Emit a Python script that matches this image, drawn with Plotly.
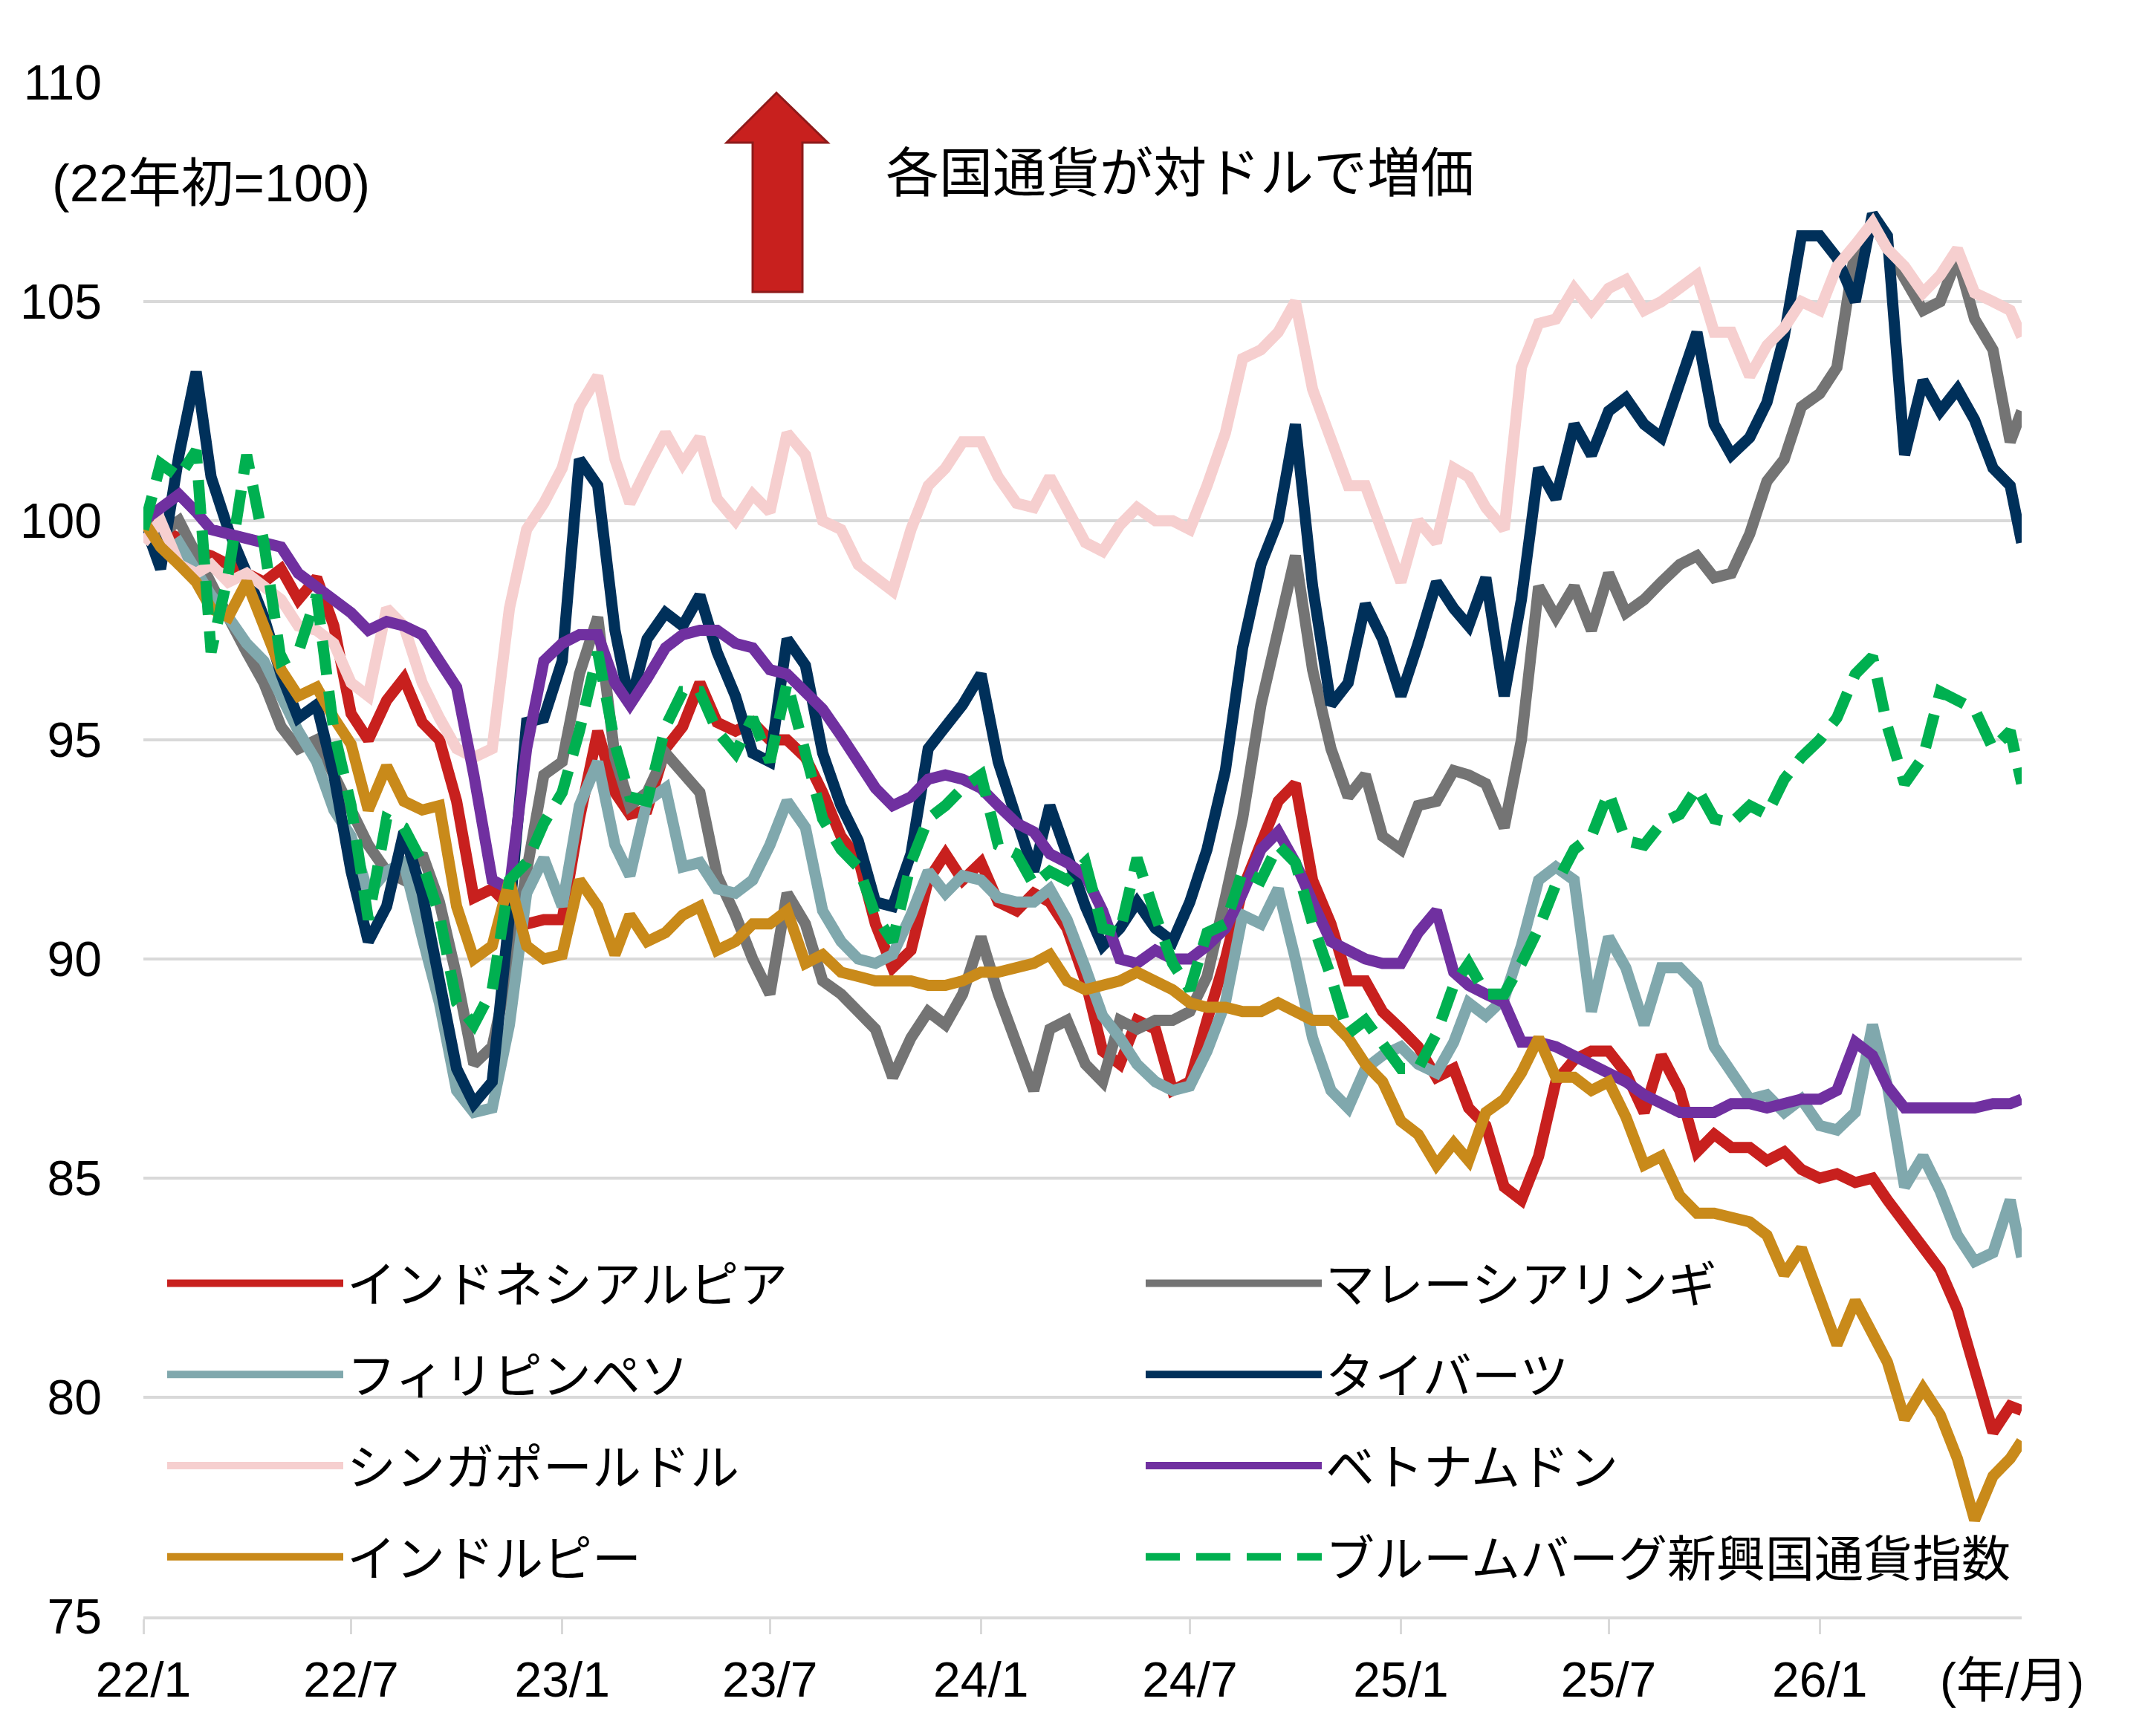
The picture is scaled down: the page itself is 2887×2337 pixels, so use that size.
import plotly.graph_objects as go

# ---- x categories: semi-monthly observation dates (22/1 .. 26/6) ----
dates = []
for i in range(54):
    yr = 2022 + i // 12
    mo = i % 12 + 1
    dates.append(f"{yr}-{mo:02d}-01")
    dates.append(f"{yr}-{mo:02d}-16")
dates.append("2026-06-26")

tick_vals = ["2022-01-01", "2022-07-01", "2023-01-01", "2023-07-01", "2024-01-01",
             "2024-07-01", "2025-01-01", "2025-07-01", "2026-01-01"]
tick_text = ["22/1", "22/7", "23/1", "23/7", "24/1", "24/7", "25/1", "25/7", "26/1"]

# ---- series values (22年初=100) ----
idr = [100, 99.8, 99.6, 99.3, 99.2, 99.0, 98.8, 98.6, 98.9, 98.2,
       98.7, 97.6, 95.6, 95.0, 95.9, 96.4, 95.4, 95.0, 93.6, 91.4,
       91.6, 91.2, 90.8, 90.9, 90.9, 93.2, 95.2, 93.8, 93.3, 93.4,
       94.8, 95.3, 96.3, 95.4, 95.2, 95.4, 95.0, 95.0, 94.6, 93.8,
       92.8, 92.3, 90.8, 89.8, 90.2, 91.8, 92.4, 91.8, 92.2, 91.3,
       91.1, 91.5, 91.3, 90.7, 89.5, 87.9, 87.6, 88.6, 88.4, 87.0,
       87.2, 88.6, 90.0, 91.6, 92.6, 93.6, 94.0, 91.8, 90.8, 89.5,
       89.5, 88.8, 88.4, 88.0, 87.3, 87.5, 86.6, 86.2, 84.8, 84.5,
       85.5, 87.2, 87.7, 87.9, 87.9, 87.4, 86.5, 87.8, 87.0, 85.6,
       86.0, 85.7, 85.7, 85.4, 85.6, 85.2, 85.0, 85.1, 84.9, 85.0,
       84.5, 84.0, 83.5, 82.9, 82.0, 80.6, 79.2, 79.8, 79.7]

myr = [100, 99.7, 100.0, 99.2, 98.5, 97.8, 97.0, 96.3, 95.3, 94.8,
       95.0, 94.2, 93.4, 92.6, 92.0, 91.8, 92.4, 91.3, 89.6, 87.6,
       88.0, 89.8, 92.0, 94.2, 94.5, 96.5, 97.8, 94.6, 93.5, 93.8,
       94.7, 94.2, 93.8, 91.9, 91.0, 90.0, 89.2, 91.5, 90.8, 89.5,
       89.2, 88.8, 88.4, 87.3, 88.2, 88.8, 88.5, 89.2, 90.5, 89.2,
       88.0, 87.0, 88.4, 88.6, 87.6, 87.2, 88.6, 88.4, 88.6, 88.6,
       88.8, 89.6, 91.4, 93.2, 95.8, 97.5, 99.2, 96.6, 94.8, 93.7,
       94.2, 92.8, 92.5, 93.5, 93.6, 94.3, 94.2, 94.0, 93.0, 95.0,
       98.5, 97.8, 98.5, 97.5, 98.8, 97.9, 98.2, 98.6, 99.0, 99.2,
       98.7, 98.8, 99.7, 100.9, 101.4, 102.6, 102.9, 103.5, 106.2, 106.8,
       106.2, 105.5, 104.8, 105.0, 106.0, 104.6, 103.9, 101.8, 102.5]

php = [100, 99.2, 99.5, 98.8, 98.3, 97.8, 97.2, 96.8, 96.0, 95.2,
       94.5, 93.4, 92.8, 91.5, 92.0, 92.2, 90.5, 89.0, 87.0, 86.5,
       86.6, 88.5, 91.5, 92.3, 91.2, 93.5, 94.5, 92.6, 91.9, 93.6,
       93.9, 92.1, 92.2, 91.6, 91.5, 91.8, 92.6, 93.6, 93.0, 91.1,
       90.4, 90.0, 89.9, 90.1, 91.0, 92.0, 91.5, 91.9, 91.8, 91.4,
       91.3, 91.3, 91.6, 90.9, 89.8, 88.7, 88.2, 87.6, 87.2, 87.0,
       87.1, 87.9, 89.0, 91.0, 90.8, 91.6, 90.0, 88.2, 87.0, 86.6,
       87.5, 87.8, 88.0, 87.6, 87.4, 88.1, 89.0, 88.7, 89.1, 90.3,
       91.8, 92.1, 91.8, 88.8, 90.5, 89.8, 88.5, 89.8, 89.8, 89.4,
       88.0, 87.4, 86.8, 86.9, 86.5, 86.8, 86.2, 86.1, 86.5, 88.5,
       87.1, 84.8, 85.5, 84.7, 83.7, 83.1, 83.3, 84.5, 83.2]

thb = [100, 98.9, 101.5, 103.4, 101.0, 99.8, 98.8, 97.8, 96.5, 95.5,
       95.8, 94.2, 92.0, 90.4, 91.2, 92.9, 91.5, 89.5, 87.5, 86.7,
       87.2, 91.0, 95.4, 95.5, 96.8, 101.4, 100.8, 97.5, 95.8, 97.3,
       97.9, 97.6, 98.3, 97.0, 96.0, 94.7, 94.5, 97.3, 96.7, 94.7,
       93.5, 92.7, 91.3, 91.2, 92.4, 94.8, 95.3, 95.8, 96.5, 94.5,
       93.2, 92.0, 93.5, 92.4, 91.2, 90.3, 90.7, 91.3, 90.7, 90.4,
       91.3, 92.5, 94.3, 97.1, 99.0, 100.0, 102.2, 98.5, 95.8, 96.3,
       98.1, 97.3, 96.0, 97.2, 98.6, 98.0, 97.6, 98.7, 96.0, 98.2,
       101.2, 100.5, 102.2, 101.5, 102.5, 102.8, 102.2, 101.9, 103.2, 104.3,
       102.2, 101.5, 101.9, 102.7, 104.2, 106.5, 106.5, 106.0, 105.0, 107.0,
       106.5, 101.5, 103.2, 102.5, 103.0, 102.3, 101.2, 100.8, 99.5]

sgd = [99.5, 100.0, 99.0, 98.8, 99.0, 98.6, 98.8, 98.5, 98.2, 97.6,
       97.5, 97.2, 96.3, 96.0, 98.0, 97.6, 96.3, 95.5, 94.8, 94.6,
       94.8, 98.0, 99.8, 100.4, 101.2, 102.6, 103.3, 101.4, 100.4, 101.2,
       102.0, 101.3, 101.9, 100.5, 100.0, 100.6, 100.2, 102.0, 101.5, 100.0,
       99.8, 99.0, 98.7, 98.4, 99.8, 100.8, 101.2, 101.8, 101.8, 101.0,
       100.4, 100.3, 101.0, 100.3, 99.5, 99.3, 99.9, 100.3, 100.0, 100.0,
       99.8, 100.8, 102.0, 103.7, 103.9, 104.3, 105.0, 103.0, 101.8, 100.8,
       100.8, 99.8, 98.6, 100.0, 99.5, 101.2, 101.0, 100.3, 99.8, 103.5,
       104.5, 104.6, 105.3, 104.8, 105.3, 105.5, 104.8, 105.0, 105.3, 105.6,
       104.3, 104.3, 103.3, 104.0, 104.4, 105.0, 104.8, 105.8, 106.3, 106.8,
       106.2, 105.8, 105.2, 105.6, 106.2, 105.2, 105.0, 104.8, 104.2]

vnd = [100, 100.3, 100.6, 100.2, 99.8, 99.7, 99.6, 99.5, 99.4, 98.8,
       98.5, 98.2, 97.9, 97.5, 97.7, 97.6, 97.4, 96.8, 96.2, 94.2,
       91.8, 91.6, 94.8, 96.8, 97.2, 97.4, 97.4, 96.3, 95.8, 96.4,
       97.1, 97.4, 97.5, 97.5, 97.2, 97.1, 96.6, 96.5, 96.1, 95.7,
       95.1, 94.5, 93.9, 93.5, 93.7, 94.1, 94.2, 94.1, 93.9, 93.5,
       93.1, 92.9, 92.4, 92.2, 91.9, 91.1, 90.0, 89.9, 90.2, 90.0,
       90.0, 90.3, 90.7, 91.5, 92.5, 92.9, 92.2, 91.3, 90.4, 90.2,
       90.0, 89.9, 89.9, 90.6, 91.1, 89.7, 89.4, 89.2, 89.0, 88.1,
       88.1, 88.0, 87.8, 87.6, 87.4, 87.2, 86.9, 86.7, 86.5, 86.5,
       86.5, 86.7, 86.7, 86.6, 86.7, 86.8, 86.8, 87.0, 88.1, 87.8,
       87.1, 86.6, 86.6, 86.6, 86.6, 86.6, 86.7, 86.7, 86.8]

inr = [100, 99.4, 99.0, 98.6, 98.0, 97.8, 98.6, 97.6, 96.6, 96.0,
       96.2, 95.5, 94.9, 93.4, 94.4, 93.6, 93.4, 93.5, 91.2, 90.0,
       90.3, 91.8, 90.3, 90.0, 90.1, 91.8, 91.2, 90.1, 91.0, 90.4,
       90.6, 91.0, 91.2, 90.2, 90.4, 90.8, 90.8, 91.1, 89.9, 90.1,
       89.7, 89.6, 89.5, 89.5, 89.5, 89.4, 89.4, 89.5, 89.7, 89.7,
       89.8, 89.9, 90.1, 89.5, 89.3, 89.4, 89.5, 89.7, 89.5, 89.3,
       89.0, 88.9, 88.9, 88.8, 88.8, 89.0, 88.8, 88.6, 88.6, 88.2,
       87.6, 87.2, 86.3, 86.0, 85.3, 85.8, 85.4, 86.5, 86.8, 87.4,
       88.2, 87.3, 87.3, 87.0, 87.2, 86.4, 85.3, 85.5, 84.6, 84.2,
       84.2, 84.1, 84.0, 83.7, 82.8, 83.4, 82.3, 81.2, 82.2, 81.5,
       80.8, 79.5, 80.2, 79.6, 78.6, 77.2, 78.2, 78.6, 79.0]

bbg = [99.8, 101.3, 101.0, 101.6, 97.0, 98.8, 101.5, 99.5, 96.8, 97.0,
       98.3, 95.2, 93.5, 90.9, 93.2, 93.0, 92.2, 91.0, 89.0, 88.5,
       89.3, 91.8, 92.2, 93.1, 93.8, 95.2, 97.0, 94.9, 93.7, 93.6,
       95.3, 96.1, 96.1, 95.2, 94.7, 95.5, 94.5, 96.3, 94.7, 93.2,
       92.5, 92.1, 91.0, 90.4, 92.2, 93.2, 93.5, 93.9, 94.2, 92.6,
       92.4, 91.7, 92.0, 91.8, 92.2, 90.7, 90.6, 92.3, 91.0, 89.9,
       89.3, 90.6, 90.8, 92.0, 91.8, 92.6, 92.2, 90.8, 89.6, 88.3,
       88.6, 88.1, 87.5, 87.5, 88.3, 89.4, 89.9, 89.2, 89.2, 89.9,
       90.7, 91.7, 92.5, 92.8, 93.8, 92.7, 92.6, 93.1, 93.3, 93.9,
       93.2, 93.1, 93.5, 93.3, 94.1, 94.6, 95.0, 95.5, 96.5, 96.9,
       95.3, 94.0, 94.6, 96.1, 95.9, 95.7, 94.8, 95.2, 94.0]

# name, values, color, dash, legend column
series = [
    ("インドネシアルピア", idr, "#C8201E", "solid", "legend"),
    ("マレーシアリンギ", myr, "#747474", "solid", "legend2"),
    ("フィリピンペソ", php, "#80A8AD", "solid", "legend"),
    ("タイバーツ", thb, "#00305A", "solid", "legend2"),
    ("シンガポールドル", sgd, "#F6CFCF", "solid", "legend"),
    ("ベトナムドン", vnd, "#7030A0", "solid", "legend2"),
    ("インドルピー", inr, "#C98A1A", "solid", "legend"),
    ("ブルームバーグ新興国通貨指数", bbg, "#00B050", "46px,22px", "legend2"),
]

W, H = 2887, 2337
L, R, T, B = 193, 166, 111, 161
PW, PH = W - L - R, H - T - B


def px(x):
    return (x - L) / PW


def py(y):
    return (H - B - y) / PH


fig = go.Figure()
for i, (name, vals, color, dash, leg) in enumerate(series):
    fig.add_trace(go.Scatter(
        x=dates, y=vals, mode="lines", name=name,
        line=dict(color=color, width=15, dash=dash),
        legend=leg, legendgroup=f"g{i}",
    ))

legend_common = dict(
    orientation="v", xanchor="left", yanchor="top",
    itemwidth=237, tracegroupgap=34, bgcolor="rgba(0,0,0,0)",
    font=dict(family="Noto Sans CJK JP", size=66, color="black"),
)

fig.update_layout(
    width=W, height=H,
    margin=dict(l=L, r=R, t=T, b=B, autoexpand=False),
    plot_bgcolor="white", paper_bgcolor="white",
    font=dict(family="Liberation Sans, Noto Sans CJK JP", size=66, color="black"),
    showlegend=True,
    legend=dict(x=px(220), y=py(1678), **legend_common),
    legend2=dict(x=px(1537), y=py(1678), **legend_common),
    xaxis=dict(
        type="date", range=["2022-01-01", "2026-06-26"],
        tickmode="array", tickvals=tick_vals, ticktext=tick_text,
        ticks="outside", ticklen=20, tickwidth=3, tickcolor="#d9d9d9",
        showline=True, linecolor="#d9d9d9", linewidth=4,
        showgrid=False, zeroline=False,
        tickfont=dict(size=66), ticklabelstandoff=5,
    ),
    yaxis=dict(
        range=[75, 110], tick0=75, dtick=5,
        showgrid=True, gridcolor="#d9d9d9", gridwidth=4,
        zeroline=False, showline=False, ticks="",
        tickfont=dict(size=66), ticklabelstandoff=55,
    ),
    shapes=[dict(
        type="path", xref="paper", yref="paper",
        path=(f"M {px(1045)} {py(125)} L {px(1114)} {py(192)} L {px(1080)} {py(192)} "
              f"L {px(1080)} {py(393)} L {px(1013)} {py(393)} L {px(1013)} {py(192)} "
              f"L {px(978)} {py(192)} Z"),
        fillcolor="#C8201E", line=dict(color="#8E1A1A", width=3),
    )],
    annotations=[
        dict(text="(22年初=100)", x=px(68), y=py(247), xref="paper", yref="paper",
             xanchor="left", yanchor="middle", showarrow=False,
             font=dict(size=71)),
        dict(text="各国通貨が対ドルで増価", x=px(1190), y=py(226), xref="paper", yref="paper",
             xanchor="left", yanchor="middle", showarrow=False,
             font=dict(family="Noto Sans CJK JP", size=72)),
        dict(text="(年/月)", x=px(2708), y=py(2262), xref="paper", yref="paper",
             xanchor="center", yanchor="middle", showarrow=False,
             font=dict(size=66)),
    ],
)

fig.write_html("out.html")
